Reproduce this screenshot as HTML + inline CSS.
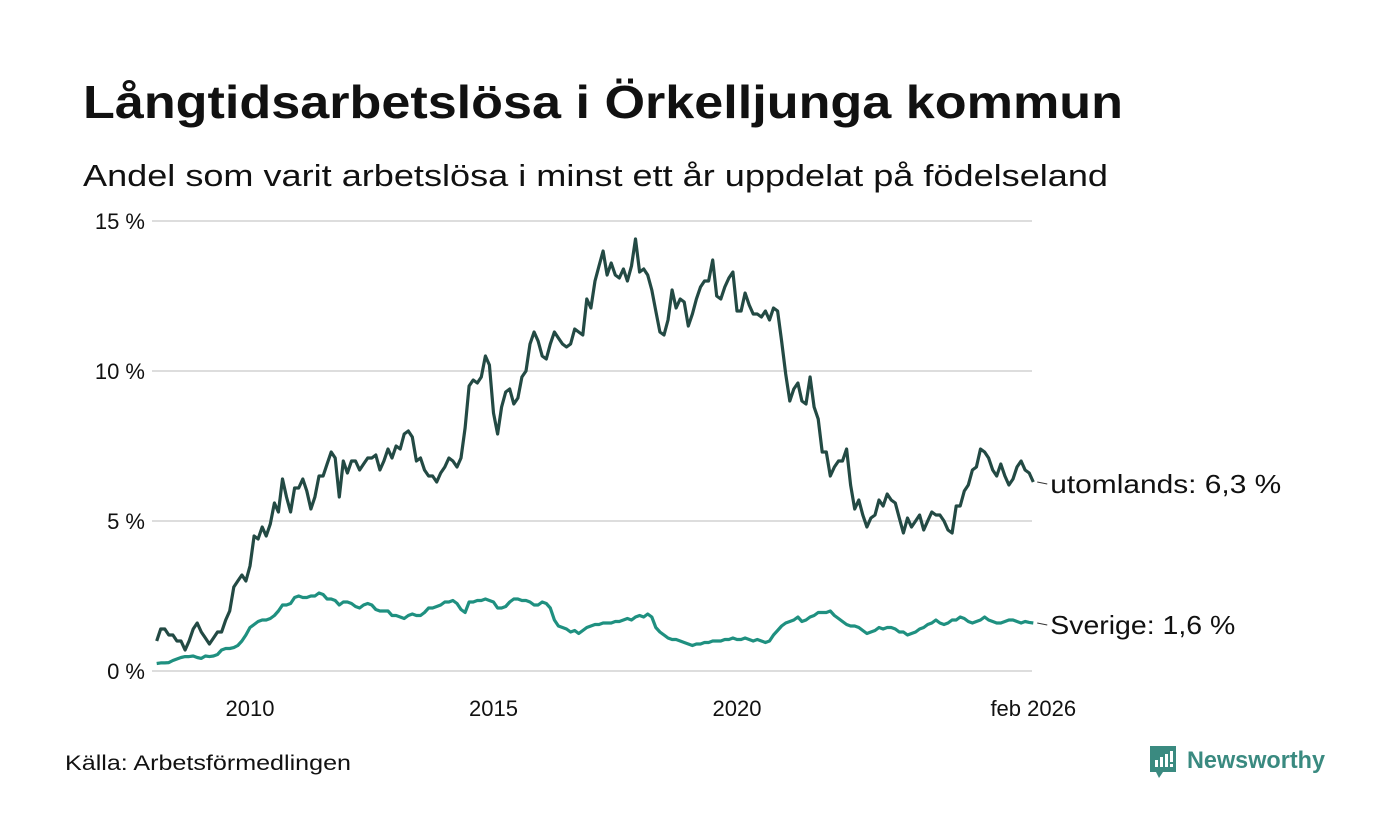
<!DOCTYPE html>
<html><head><meta charset="utf-8">
<style>
body{margin:0;background:#fff;font-family:"Liberation Sans",sans-serif;}
svg{display:block}
</style></head>
<body>
<svg width="1400" height="840" viewBox="0 0 1400 840">
<text x="83" y="118" font-size="46" font-weight="bold" fill="#111" textLength="1040" lengthAdjust="spacingAndGlyphs">Långtidsarbetslösa i Örkelljunga kommun</text>
<text x="83" y="186" font-size="31" fill="#111" textLength="1025" lengthAdjust="spacingAndGlyphs">Andel som varit arbetslösa i minst ett år uppdelat på födelseland</text>
<g id="grid"></g>
<g id="yticks"></g>
<g id="xticks"></g>
<g id="lines"></g>
<text x="65" y="770" font-size="21" fill="#111" textLength="286" lengthAdjust="spacingAndGlyphs">Källa: Arbetsförmedlingen</text>
<g>
<path d="M1150 746h26v26h-13l-4 6-3-6h-6z" fill="#3a8a80"/>
<rect x="1155" y="760" width="3" height="7" fill="#fff"/><rect x="1160" y="757" width="3" height="10" fill="#fff"/><rect x="1165" y="754" width="3" height="13" fill="#fff"/><rect x="1170" y="751" width="3" height="11" fill="#fff"/><rect x="1170" y="764" width="3" height="3" fill="#fff"/>
<text x="1187" y="768" font-size="24" font-weight="bold" fill="#3a8a80" textLength="138" lengthAdjust="spacingAndGlyphs">Newsworthy</text>
</g>
</svg>
<script>
const yTickValues=[0,5,10,15];
const yTickLabels=["0 %","5 %","10 %","15 %"];
const xTickYears=[2010,2015,2020];
const xTickLabels=["2010","2015","2020"];
const startYear=2008, startMonth=2;
const utomlands=[1.0,1.4,1.4,1.2,1.2,1.0,1.0,0.7,1.0,1.4,1.6,
1.3,1.1,0.9,1.1,1.3,1.3,1.7,2.0,2.8,3.0,3.2,3.0,
3.5,4.5,4.4,4.8,4.5,4.9,5.6,5.3,6.4,5.8,5.3,6.1,
6.1,6.4,6.0,5.4,5.8,6.5,6.5,6.9,7.3,7.1,5.8,7.0,
6.6,7.0,7.0,6.7,6.9,7.1,7.1,7.2,6.7,7.0,7.4,7.1,
7.5,7.4,7.9,8.0,7.8,7.0,7.1,6.7,6.5,6.5,6.3,6.6,
6.8,7.1,7.0,6.8,7.1,8.1,9.5,9.7,9.6,9.8,10.5,10.2,
8.6,7.9,8.8,9.3,9.4,8.9,9.1,9.8,10.0,10.9,11.3,11.0,
10.5,10.4,10.9,11.3,11.1,10.9,10.8,10.9,11.4,11.3,11.2,12.4,
12.1,13.0,13.5,14.0,13.2,13.6,13.2,13.1,13.4,13.0,13.5,14.4,
13.3,13.4,13.2,12.7,12.0,11.3,11.2,11.7,12.7,12.1,12.4,12.3,
11.5,11.9,12.4,12.8,13.0,13.0,13.7,12.5,12.4,12.8,13.1,13.3,
12.0,12.0,12.6,12.2,11.9,11.9,11.8,12.0,11.7,12.1,12.0,11.0,
9.9,9.0,9.4,9.6,9.0,8.9,9.8,8.8,8.4,7.3,7.3,6.5,
6.8,7.0,7.0,7.4,6.2,5.4,5.7,5.2,4.8,5.1,5.2,5.7,
5.5,5.9,5.7,5.6,5.1,4.6,5.1,4.8,5.0,5.2,4.7,5.0,
5.3,5.2,5.2,5.0,4.7,4.6,5.5,5.5,6.0,6.2,6.7,6.8,
7.4,7.3,7.1,6.7,6.5,6.9,6.5,6.2,6.4,6.8,7.0,6.7,
6.6,6.3];
const sverige=[0.25,0.27,0.27,0.28,0.35,0.40,0.45,0.48,0.48,0.50,0.45,
0.42,0.50,0.48,0.50,0.55,0.70,0.75,0.75,0.78,0.85,1.0,1.2,
1.45,1.55,1.65,1.7,1.7,1.75,1.85,2.0,2.2,2.2,2.25,2.45,
2.5,2.45,2.45,2.5,2.5,2.6,2.55,2.4,2.4,2.35,2.2,2.3,
2.3,2.25,2.15,2.1,2.2,2.25,2.2,2.05,2.0,2.0,2.0,1.85,
1.85,1.8,1.75,1.85,1.9,1.85,1.85,1.95,2.1,2.1,2.15,2.2,
2.3,2.3,2.35,2.25,2.05,1.95,2.3,2.3,2.35,2.35,2.4,2.35,
2.3,2.1,2.1,2.15,2.3,2.4,2.4,2.35,2.35,2.3,2.2,2.2,
2.3,2.25,2.1,1.7,1.5,1.45,1.4,1.3,1.35,1.25,1.35,1.45,
1.5,1.55,1.55,1.6,1.6,1.6,1.65,1.65,1.7,1.75,1.7,1.8,
1.85,1.8,1.9,1.8,1.45,1.3,1.2,1.1,1.05,1.05,1.0,0.95,
0.9,0.85,0.9,0.9,0.95,0.95,1.0,1.0,1.0,1.05,1.05,1.1,
1.05,1.05,1.1,1.05,1.0,1.05,1.0,0.95,1.0,1.2,1.35,1.5,
1.6,1.65,1.7,1.8,1.65,1.7,1.8,1.85,1.95,1.95,1.95,2.0,
1.85,1.75,1.65,1.55,1.5,1.5,1.45,1.35,1.25,1.3,1.35,1.45,
1.4,1.45,1.45,1.4,1.3,1.3,1.2,1.25,1.3,1.4,1.45,1.55,
1.6,1.7,1.6,1.55,1.6,1.7,1.7,1.8,1.75,1.65,1.6,1.65,
1.7,1.8,1.7,1.65,1.6,1.6,1.65,1.7,1.7,1.65,1.6,1.65,
1.62,1.6];
const NS="http://www.w3.org/2000/svg";
const X0=250, PXY=48.7;
function xYear(y){return X0+(y-2010)*PXY;}
function xIdx(i){const m=startMonth-1+i;return xYear(startYear+m/12);}
function yVal(v){return 671-v*30;}
function mk(tag,attrs,parent){const e=document.createElementNS(NS,tag);for(const k in attrs)e.setAttribute(k,attrs[k]);parent.appendChild(e);return e;}
const grid=document.getElementById('grid'),yt=document.getElementById('yticks'),xt=document.getElementById('xticks'),lines=document.getElementById('lines');
yTickValues.forEach((v,i)=>{
 const l=mk('line',{x1:152,x2:1032,y1:yVal(v),y2:yVal(v),stroke:'#dddddd','stroke-width':2},grid);
 
 
 const t=mk('text',{x:145,y:yVal(v)+8,'font-size':22,fill:'#111','text-anchor':'end'},yt);
 t.textContent=yTickLabels[i];
 
 
});
xTickYears.forEach((y,i)=>{
 const t=mk('text',{x:xYear(y),y:716,'font-size':22,fill:'#111','text-anchor':'middle'},xt);
 t.textContent=xTickLabels[i];
 
 
});
const lastIdx=utomlands.length-1;
const te=mk('text',{x:xIdx(lastIdx),y:716,'font-size':22,fill:'#111','text-anchor':'middle'},xt);
te.textContent='feb 2026';


function drawSeries(arr,color,label,name,w){
 const d=arr.map((v,i)=>(i?'L':'M')+xIdx(i).toFixed(1)+' '+yVal(v).toFixed(1)).join(' ');
 const p=mk('path',{d:d,fill:'none',stroke:color,'stroke-width':3.2,'stroke-linejoin':'round'},lines);
 
 
 const lx=xIdx(arr.length-1), ly=yVal(arr[arr.length-1]);
 const ld=mk('line',{x1:lx+4,x2:lx+14,y1:ly,y2:ly+2,stroke:'#333','stroke-width':1},lines);
 
 
 const t=mk('text',{x:lx+17,y:ly+11,'font-size':26,fill:'#111',textLength:w,lengthAdjust:'spacingAndGlyphs'},lines);
 t.textContent=label+': '+String(arr[arr.length-1].toFixed(1)).replace('.',',')+' %';
 
 
}
drawSeries(sverige,'#1f9080','Sverige','sverige',185);
drawSeries(utomlands,'#234a44','utomlands','utomlands',231);
</script>
</body></html>
